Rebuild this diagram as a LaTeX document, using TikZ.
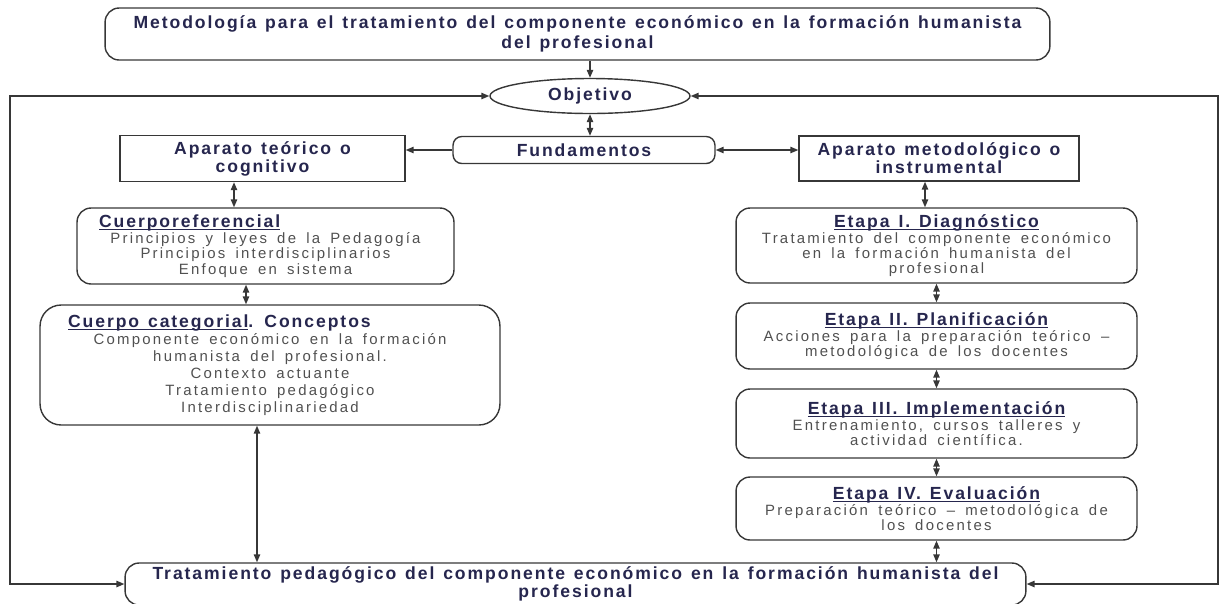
\documentclass[tikz,border=0pt]{standalone}
\usepackage{fontspec}
\setmainfont{Liberation Sans}
\newfontfamily\hdfont{Liberation Sans}[LetterSpace=11, WordSpace=1.3]
\newfontfamily\txfont{Liberation Sans}[LetterSpace=15, WordSpace=1.6]
\usetikzlibrary{arrows.meta, shapes.geometric}
\definecolor{hdcol}{RGB}{38,38,78}
\definecolor{txcol}{RGB}{80,80,80}
\definecolor{linecol}{RGB}{55,55,55}
\newcommand{\headtxt}[1]{{\hdfont\bfseries\fontsize{10}{10}\selectfont\color{hdcol}#1}}
\newcommand{\ulhead}[1]{\setbox0\hbox{\headtxt{#1}}\rlap{\color{hdcol}\rule[-1.5pt]{\wd0}{0.5pt}}\box0}
\tikzset{
  rbox/.style={
    rectangle, rounded corners=8pt,
    draw=linecol, line width=0.8pt,
    align=center, inner sep=0pt, text=txcol,
    font=\txfont\fontsize{8.5}{8.5}\selectfont
  },
  hbox/.style={
    rectangle, draw=linecol, line width=0.8pt,
    align=center, inner sep=0pt, text=hdcol,
    font=\hdfont\bfseries\fontsize{10}{10.2}\selectfont
  },
  flowarrow/.style={-{Triangle[length=4.5pt,width=3.6pt]}, line width=0.8pt, draw=linecol},
  dblarrow/.style={{Triangle[length=4.5pt,width=3.6pt]}-{Triangle[length=4.5pt,width=3.6pt]},
    line width=0.8pt, draw=linecol},
}
\begin{document}
\begin{tikzpicture}[x=0.02cm, y=-0.02cm]
\useasboundingbox (0,0) rectangle (1227,603);
% top and centre
\node[rbox, text=hdcol, font=\hdfont\bfseries\fontsize{10}{11.4}\selectfont,
      minimum width=18.9cm, minimum height=1.04cm](top) at (577.5,34)
  {Metodología para el tratamiento del componente económico en la formación humanista\\del profesional};
\node[hbox, ellipse, minimum width=4.0cm, minimum height=0.70cm](obj) at (590,96) {Objetivo};
\node[hbox, rounded corners=5pt, minimum width=5.24cm, minimum height=0.54cm](fund) at (584,150) {Fundamentos};
\node[hbox, minimum width=5.7cm, minimum height=0.92cm](teo) at (262.5,158.5) {Aparato teórico o\\cognitivo};
\node[hbox, minimum width=5.6cm, minimum height=0.9cm](met) at (939,158.5) {Aparato metodológico o\\instrumental};
% left column
\node[rbox, minimum width=7.54cm, minimum height=1.52cm,
      font=\txfont\fontsize{8.5}{8.8}\selectfont](cref) at (265.5,246)
  {\makebox[6.66cm][l]{\ulhead{Cuerporeferencial}}\\Principios y leyes de la Pedagogía\\Principios interdisciplinarios\\Enfoque en sistema};
\node[rbox, rounded corners=12pt, minimum width=9.2cm, minimum height=2.4cm,
      font=\txfont\fontsize{8.5}{9.7}\selectfont](ccat) at (270,365)
  {\makebox[8.08cm][l]{\ulhead{Cuerpo categorial}\headtxt{. Conceptos}}\\Componente económico en la formación\\humanista del profesional.\\Contexto actuante\\Tratamiento pedagógico\\Interdisciplinariedad};
% right column
\node[rbox, minimum width=8.02cm, minimum height=1.5cm](et1) at (936.5,245.5)
  {\ulhead{Etapa I. Diagnóstico}\\[0.6pt]Tratamiento del componente económico\\en la formación humanista del\\profesional};
\node[rbox, minimum width=8.02cm, minimum height=1.32cm](et2) at (936.5,336)
  {\ulhead{Etapa II. Planificación}\\[0.6pt]Acciones para la preparación teórico –\\metodológica de los docentes};
\node[rbox, minimum width=8.02cm, minimum height=1.38cm](et3) at (936.5,423.5)
  {\ulhead{Etapa III. Implementación}\\[0.6pt]Entrenamiento, cursos talleres y\\actividad científica.};
\node[rbox, minimum width=8.02cm, minimum height=1.26cm](et4) at (936.5,508.5)
  {\ulhead{Etapa IV. Evaluación}\\[0.6pt]Preparación teórico – metodológica de\\los docentes};
% bottom
\node[rbox, text=hdcol, font=\hdfont\bfseries\fontsize{10}{9.1}\selectfont,
      minimum width=18.02cm, minimum height=0.84cm](bot) at (575.5,584)
  {Tratamiento pedagógico del componente económico en la formación humanista del\\profesional};
\coordinate (lcorner) at (10,96);
\coordinate (rcorner) at (1218,96);
\draw[flowarrow](obj.north |- top.south)--(obj.north);
\draw[dblarrow](obj.south)--(obj.south |- fund.north);
\draw[flowarrow](fund.west)--(fund.west -| teo.east);
\draw[dblarrow](fund.east)--(fund.east -| met.west);
\draw[dblarrow]([xshift=-0.57cm]teo.south)--([xshift=-0.57cm]teo.south |- cref.north);
\draw[dblarrow]([xshift=-0.39cm]cref.south)--([xshift=-0.39cm]cref.south |- ccat.north);
\draw[dblarrow]([xshift=-0.26cm]ccat.south)--([xshift=-0.26cm]ccat.south |- bot.north);
\draw[dblarrow]([xshift=-0.28cm]met.south)--([xshift=-0.28cm]met.south |- et1.north);
\draw[dblarrow](et1.south)--(et2.north);
\draw[dblarrow](et2.south)--(et3.north);
\draw[dblarrow](et3.south)--(et4.north);
\draw[dblarrow](et4.south)--(et4.south |- bot.north);
% feedback loops
\draw[dblarrow](obj.west)--(lcorner) |- (bot.west);
\draw[dblarrow](obj.east)--(rcorner) |- (bot.east);
\end{tikzpicture}
\end{document}
